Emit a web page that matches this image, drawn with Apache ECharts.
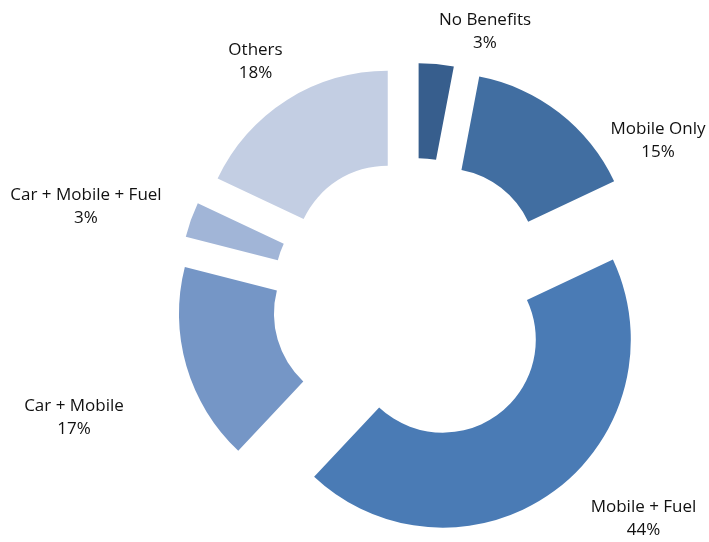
<!DOCTYPE html>
<html>
<head>
<meta charset="utf-8">
<script src="https://cdn.jsdelivr.net/npm/echarts@6/dist/echarts.min.js"></script>
<style>html,body{margin:0;padding:0;background:#fff;}#c{width:709px;height:542px;}</style>
</head>
<body>
<div id="c"></div>
<script>
const categories = ['No Benefits', 'Mobile Only', 'Mobile + Fuel', 'Car + Mobile', 'Car + Mobile + Fuel', 'Others'];
const values = [3, 15, 44, 17, 3, 18];
const colors = ['#375E8D', '#416EA1', '#4A7BB5', '#7596C6', '#A1B5D7', '#C3CEE3'];
// label anchor points (layout only)
const labelPos = [[485, 32], [658, 140.5], [643.5, 518.5], [74, 417.5], [86, 206.5], [255.5, 61.5]];

const chart = echarts.init(document.getElementById('c'), null, {renderer: 'canvas'});
chart.setOption({
  animation: false,
  backgroundColor: '#ffffff',
  series: [{
    type: 'pie',
    center: [414, 300],
    radius: [93, 188],
    startAngle: 90,
    clockwise: true,
    selectedMode: 'multiple',
    selectedOffset: 49,
    emphasis: {disabled: true},
    label: {show: false},
    labelLine: {show: false},
    data: categories.map((n, i) => ({
      name: n,
      value: values[i],
      selected: true,
      itemStyle: {color: colors[i], borderWidth: 0}
    }))
  }, {
    // label layer: same data, invisible sectors
    type: 'pie',
    center: [414, 300],
    radius: [93, 188],
    startAngle: 90,
    clockwise: true,
    silent: true,
    selectedMode: false,
    avoidLabelOverlap: false,
    emphasis: {disabled: true},
    itemStyle: {color: 'rgba(0,0,0,0)', borderWidth: 0},
    label: {
      show: true,
      position: 'outside',
      formatter: p => p.name + '\n' + p.value + '%',
      fontFamily: 'Open Sans',
      fontSize: 17,
      lineHeight: 23,
      color: '#111111',
      align: 'center'
    },
    labelLine: {show: false},
    labelLayout: function (params) {
      const p = labelPos[params.dataIndex];
      return {x: p[0], y: p[1], align: 'center', verticalAlign: 'middle', hideOverlap: false};
    },
    data: categories.map((n, i) => ({name: n, value: values[i]}))
  }]
});
</script>
</body>
</html>
